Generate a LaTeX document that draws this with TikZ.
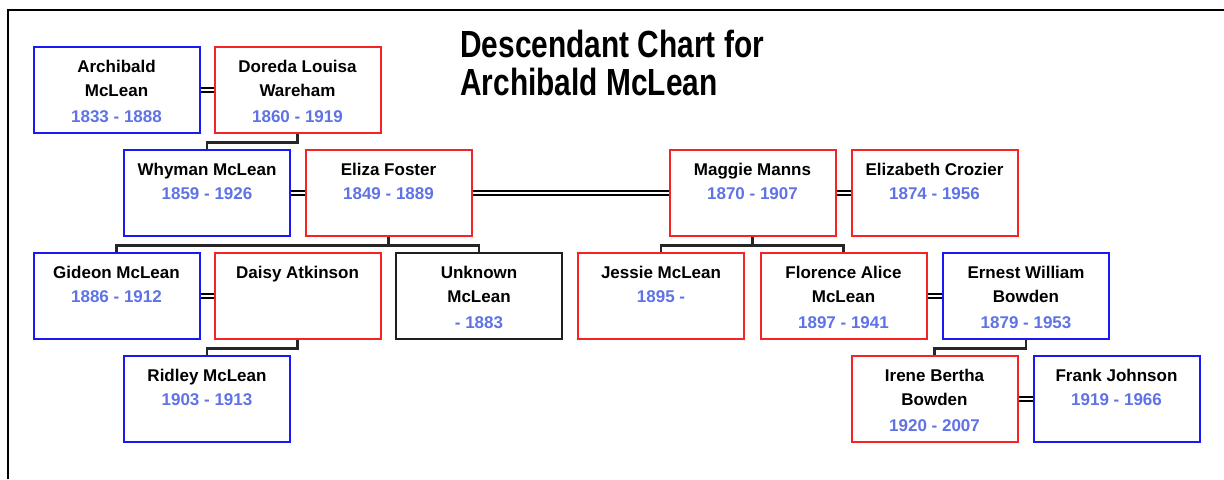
\documentclass[tikz,border=0pt]{standalone}
\usepackage{fontspec}
\setmainfont{Liberation Sans}
\newfontfamily\titlefont{Liberation Sans}[FakeStretch=0.79]
\usetikzlibrary{positioning,calc}
\definecolor{manblue}{RGB}{25,25,245}
\definecolor{womanred}{RGB}{245,35,35}
\definecolor{yearblue}{RGB}{95,115,230}
\definecolor{unsuregray}{RGB}{30,30,30}
\newcommand{\yrs}[1]{\textcolor{yearblue}{#1}}

\begin{document}
\begin{tikzpicture}[
  x=0.5pt,y=-0.5pt,
  box/.style={line width=1pt,minimum width=83pt,minimum height=43pt,inner sep=0pt},
  man/.style={box,draw=manblue},
  woman/.style={box,draw=womanred},
  unsure/.style={box,draw=unsuregray},
  who/.style={anchor=north,yshift=-7pt,align=center,inner sep=0pt,font=\bfseries\fontsize{8.5}{12}\selectfont},
  wed/.style={double,double distance=1.3pt,line width=0.75pt},
  kin/.style={line width=1.1pt,black!85},
  frame/.style={line width=1.1pt,black}
]
\useasboundingbox (0,0) rectangle (1224,479);
\draw[frame] (8,479) -- (8,10) -- (1224,10);

% Title
\node[anchor=north west,inner sep=0pt,align=left,font=\titlefont\bfseries\fontsize{18.9}{19}\selectfont] (title) at (460,30) {Descendant Chart for\\Archibald McLean};

% Generation 1
\node[man,label={[who]north:{Archibald\\McLean\\[1pt]\yrs{1833 - 1888}}}] (archibald) at (116.5,90) {};
\node[woman,label={[who]north:{Doreda Louisa\\Wareham\\[1pt]\yrs{1860 - 1919}}}] (doreda) at (297.5,90) {};
\draw[wed] (archibald.east) -- (doreda.west);

% Generation 2
\node[man,label={[who]north:{Whyman McLean\\\yrs{1859 - 1926}}}] (whyman) at (207,193) {};
\node[woman,label={[who]north:{Eliza Foster\\\yrs{1849 - 1889}}}] (eliza) at (388.5,193) {};
\node[woman,label={[who]north:{Maggie Manns\\\yrs{1870 - 1907}}}] (maggie) at (752.5,193) {};
\node[woman,label={[who]north:{Elizabeth Crozier\\\yrs{1874 - 1956}}}] (crozier) at (934.5,193) {};
\draw[kin] (doreda.south) -- ++(0,8.5) -| (whyman.north);
\draw[wed] (whyman.east) -- (eliza.west);
\draw[wed] (eliza.east) -- (maggie.west);
\draw[wed] (maggie.east) -- (crozier.west);

% Generation 3
\node[man,label={[who]north:{Gideon McLean\\\yrs{1886 - 1912}}}] (gideon) at (116.5,296) {};
\node[woman,label={[who]north:{Daisy Atkinson}}] (daisy) at (297.5,296) {};
\node[unsure,label={[who]north:{Unknown\\McLean\\[1pt]\yrs{- 1883}}}] (unknown) at (479,296) {};
\node[woman,label={[who]north:{Jessie McLean\\\yrs{1895 -}}}] (jessie) at (661,296) {};
\node[woman,label={[who]north:{Florence Alice\\McLean\\[1pt]\yrs{1897 - 1941}}}] (florence) at (843.5,296) {};
\node[man,label={[who]north:{Ernest William\\Bowden\\[1pt]\yrs{1879 - 1953}}}] (ernest) at (1026,296) {};
\draw[kin] (eliza.south) -- ++(0,8.5) coordinate (elizabus);
\draw[kin] (gideon.north) |- (elizabus) -| (unknown.north);
\draw[kin] (maggie.south) -- ++(0,8.5) coordinate (maggiebus);
\draw[kin] (jessie.north) |- (maggiebus) -| (florence.north);
\draw[wed] (gideon.east) -- (daisy.west);
\draw[wed] (florence.east) -- (ernest.west);

% Generation 4
\node[man,label={[who]north:{Ridley McLean\\\yrs{1903 - 1913}}}] (ridley) at (207,399) {};
\node[woman,label={[who]north:{Irene Bertha\\Bowden\\[1pt]\yrs{1920 - 2007}}}] (irene) at (934.5,399) {};
\node[man,label={[who]north:{Frank Johnson\\\yrs{1919 - 1966}}}] (frank) at (1116.5,399) {};
\draw[kin] (daisy.south) -- ++(0,8.5) -| (ridley.north);
\draw[kin] (ernest.south) -- ++(0,8.5) -| (irene.north);
\draw[wed] (irene.east) -- (frank.west);
\end{tikzpicture}
\end{document}
